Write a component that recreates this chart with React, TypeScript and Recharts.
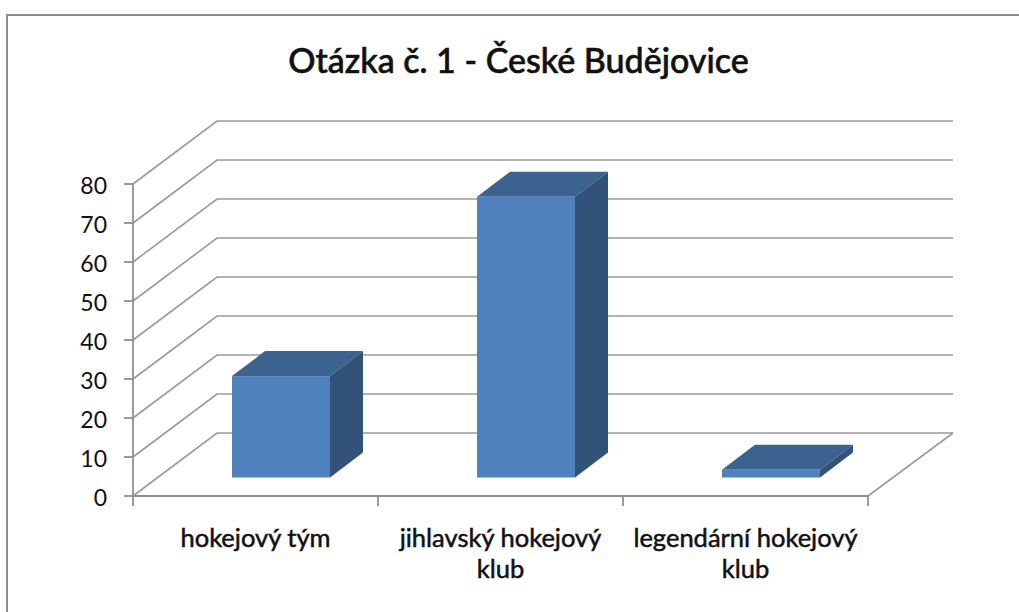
import { Bar, BarChart, CartesianGrid, XAxis, YAxis } from "recharts"

const categories = ["hokejový tým", "jihlavský hokejový klub", "legendární hokejový klub"]
const categoryLines = [["hokejový tým"], ["jihlavský hokejový", "klub"], ["legendární hokejový", "klub"]]
const answers = [26, 72, 2]
const valueTicks = [0, 10, 20, 30, 40, 50, 60, 70, 80]
const title = "Otázka č. 1 - České Budějovice"

const data = categories.map((name, i) => ({ name, value: answers[i] }))

const FONT = "Lato, sans-serif"
const LINE = "#9a9a9a"
const AXIS = "#8f8f8f"

// how far the back wall sits behind the front plane
const WALL_DX = 84
const WALL_DY = 63
const BAND = 245

function GridLine(props: any) {
  const { x1, x2, y1, y, height } = props
  const backY = y1 - WALL_DY
  const isFloor = Math.abs(y1 - (y + height)) < 1
  return (
    <g>
      <path
        d={`M${x1},${y1} L${x1 + WALL_DX},${backY} L${x2 + WALL_DX + 1},${backY}`}
        fill="none"
        stroke={LINE}
        strokeWidth={1.6}
      />
      {isFloor && <path d={`M${x2},${y1} L${x2 + WALL_DX + 1},${backY}`} fill="none" stroke={LINE} strokeWidth={1.6} />}
    </g>
  )
}

// Excel style 3D column: the bar stands in the middle of the floor
function Column(props: any) {
  const x = props.x + 25
  const y = props.y - 18.5
  const { width, height } = props
  const dx = 33
  const dy = 25
  return (
    <g>
      <path
        d={`M${x},${y} L${x + dx},${y - dy} L${x + width + dx},${y - dy} L${x + width},${y} Z`}
        fill="#3c638f"
      />
      <path
        d={`M${x + width},${y} L${x + width + dx},${y - dy} L${x + width + dx},${y + height - dy} L${x + width},${y + height} Z`}
        fill="#325278"
      />
      <rect x={x} y={y} width={width} height={height} fill="#4f81bd" />
    </g>
  )
}

function CategoryTick(props: any) {
  const { x, y, index } = props
  const left = x - BAND / 2
  const right = x + BAND / 2
  return (
    <g>
      <line x1={left} x2={left} y1={y - 8} y2={y + 2} stroke={AXIS} strokeWidth={1.8} />
      {index === categories.length - 1 && (
        <line x1={right} x2={right} y1={y - 8} y2={y + 2} stroke={AXIS} strokeWidth={1.8} />
      )}
      <text
        x={x}
        y={y + 43}
        textAnchor="middle"
        fill="#111"
        stroke="#111"
        strokeWidth={0.5}
        fontFamily={FONT}
        fontSize={25.5}
      >
        {categoryLines[index].map((line, i) => (
          <tspan key={line} x={x} dy={i === 0 ? 0 : 31}>
            {line}
          </tspan>
        ))}
      </text>
    </g>
  )
}

export default function App() {
  return (
    <div style={{ position: "absolute", left: 0, top: 0, width: 1019, height: 612, overflow: "hidden", background: "#fff" }}>
      <div
        style={{
          position: "absolute",
          left: 6,
          top: 14,
          right: 0,
          bottom: -5,
          borderLeft: "2px solid #8c8c8c",
          borderTop: "2px solid #8c8c8c",
        }}
      />
      <div
        style={{
          position: "absolute",
          left: 0,
          width: 1037,
          top: 40,
          textAlign: "center",
          fontFamily: FONT,
          fontSize: 34,
          fontWeight: 500,
          lineHeight: "40px",
          color: "#111",
          WebkitTextStroke: "0.6px #111",
        }}
      >
        {title}
      </div>
      <div style={{ position: "absolute", left: 0, top: 0 }}>
        <BarChart width={1019} height={612} data={data} margin={{ top: 184, right: 151, bottom: 0, left: 0 }}>
          <CartesianGrid vertical={false} horizontal={(p: any) => <GridLine key={p.key} {...p} />} />
          <XAxis
            dataKey="name"
            height={116}
            interval={0}
            axisLine={{ stroke: AXIS, strokeWidth: 1.8 }}
            tickLine={false}
            tick={<CategoryTick />}
          />
          <YAxis
            width={133}
            domain={[0, 80]}
            ticks={valueTicks}
            interval={0}
            axisLine={{ stroke: AXIS, strokeWidth: 1.8 }}
            tickLine={{ stroke: AXIS, strokeWidth: 1.8 }}
            tickSize={9}
            tickMargin={17}
            tick={{ fontFamily: FONT, fontSize: 23, fill: "#111", dy: 2 }}
          />
          <Bar dataKey="value" barSize={98} shape={<Column />} isAnimationActive={false} />
        </BarChart>
      </div>
    </div>
  )
}
